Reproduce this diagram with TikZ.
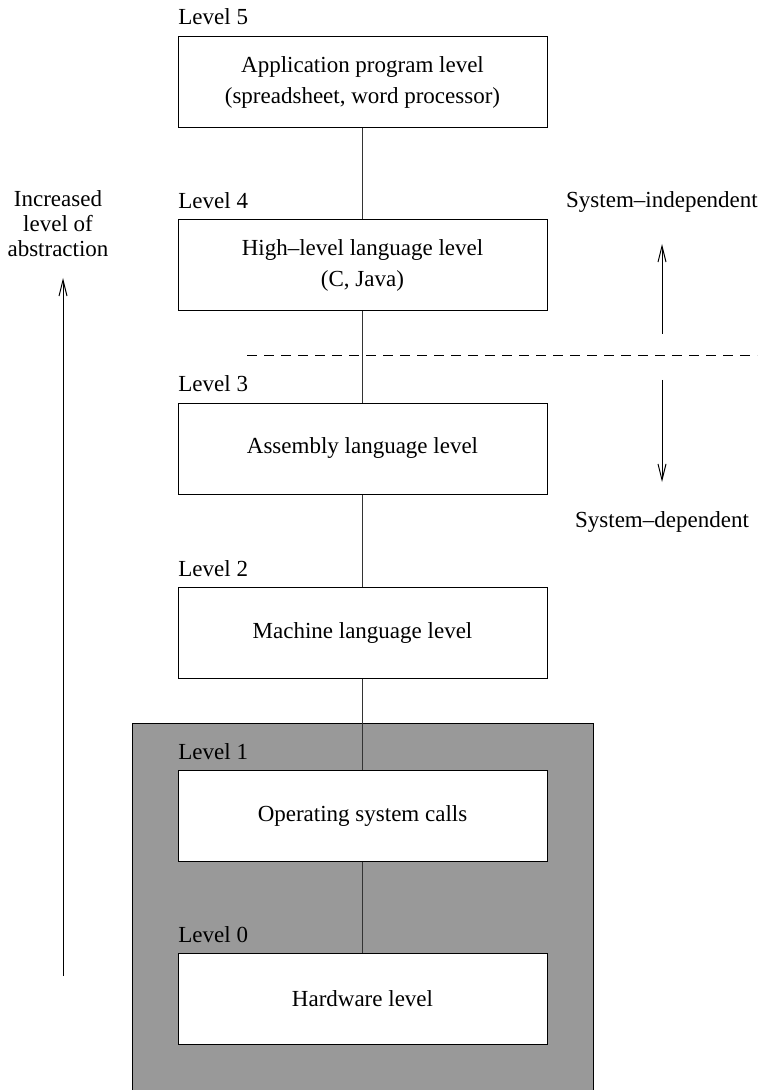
\documentclass[tikz,border=0pt]{standalone}
\usepackage{fontspec}
\setmainfont{Liberation Serif}
\usetikzlibrary{arrows.meta}
\begin{document}
\begin{tikzpicture}[x=0.5pt,y=-0.5pt,
  every node/.style={font=\fontsize{11.5}{15}\selectfont},
  levelbox/.style={draw=black,fill=white,line width=0.5pt,minimum width=184.5pt,minimum height=45.5pt,inner sep=0pt,align=center},
  levellabel/.style={anchor=base west,inner sep=0pt},
  conn/.style={draw=black!80,line width=0.5pt},
  uparrow/.style={line width=0.5pt,-{Straight Barb[length=8pt,width=4pt]}},
  sidetext/.style={inner sep=0pt,anchor=base,align=center}
]
\useasboundingbox (0,0) rectangle (762,1090);
% gray hardware region
\draw[fill=black!40,line width=0.5pt] (132,1092) -- (132,723) -- (593,723) -- (593,1092);
% boxes
\node[levelbox] (b5) at (362.5,82.5) {Application program level\\[0.5pt](spreadsheet, word processor)};
\node[levelbox] (b4) at (362.5,265.5) {High\textendash level language level\\[0.5pt](C, Java)};
\node[levelbox] (b3) at (362.5,448.5) {Assembly language level};
\node[levelbox] (b2) at (362.5,632.5) {Machine language level};
\node[levelbox] (b1) at (362.5,815.5) {Operating system calls};
\node[levelbox] (b0) at (362.5,998.5) {Hardware level};
% labels
\node[levellabel] (l5) at (178,25) {Level 5};
\node[levellabel] (l4) at (178,209) {Level 4};
\node[levellabel] (l3) at (178,392) {Level 3};
\node[levellabel] (l2) at (178,576) {Level 2};
\node[levellabel] (l1) at (178,759) {Level 1};
\node[levellabel] (l0) at (178,942) {Level 0};
% connectors
\draw[conn] (b5.south) -- (b4.north);
\draw[conn] (b4.south) -- (b3.north);
\draw[conn] (b3.south) -- (b2.north);
\draw[conn] (b2.south) -- (b1.north);
\draw[conn] (b1.south) -- (b0.north);
% dashed separator
\coordinate (dl) at (247,356);
\coordinate (dr) at (757,356);
\draw[line width=0.5pt,dash pattern=on 5pt off 3.5pt] (dl) -- (dr);
% left arrow and text
\node[sidetext,font=\fontsize{11.5}{12.5}\selectfont] (abs) at (58,257) {Increased\\level of\\abstraction};
\coordinate (la0) at (63,976);
\coordinate (la1) at (63,278);
\draw[uparrow] (la0) -- (la1);
% right arrows and text
\node[sidetext] (sind) at (662,208) {System\textendash independent};
\node[sidetext] (sdep) at (662,527) {System\textendash dependent};
\coordinate (ra0) at (662,334);
\coordinate (ra1) at (662,244);
\coordinate (rb0) at (662,380);
\coordinate (rb1) at (662,482);
\draw[uparrow] (ra0) -- (ra1);
\draw[uparrow] (rb0) -- (rb1);
\end{tikzpicture}
\end{document}
